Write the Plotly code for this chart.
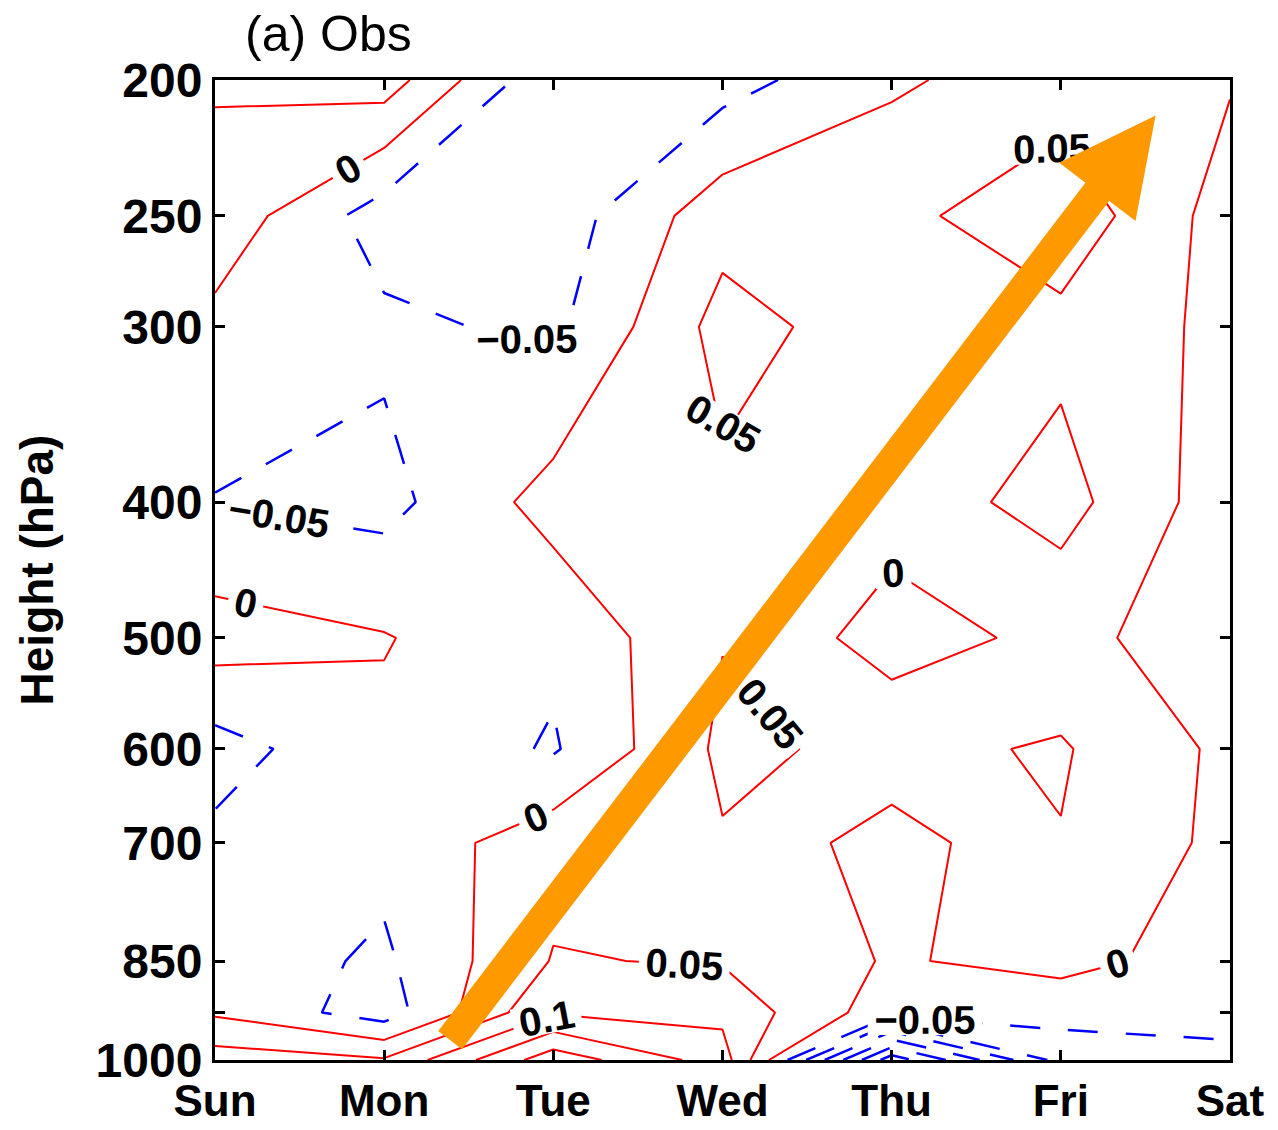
import math
import plotly.graph_objects as go

# Axes: weekday on x, pressure level (hPa) on a log-scaled, reversed y axis
days = ["Sun", "Mon", "Tue", "Wed", "Thu", "Fri", "Sat"]
pressure_hpa = [200, 250, 300, 400, 500, 600, 700, 850, 925, 1000]
pressure_ticks = ["200", "250", "300", "400", "500", "600", "700", "850", "", "1000"]

# Anomaly profile for each weekday, listed from 200 hPa down to 1000 hPa
sun = [0.054, 0.034, -0.015, -0.052, 0.023, -0.070, -0.039, -0.023, -0.007, 0.074]
mon = [0.075, -0.075, -0.039, -0.066, 0.003, -0.012, -0.035, -0.058, -0.075, 0.055]
tue = [-0.090, -0.078, -0.061, 0.020, -0.040, -0.055, 0.030, 0.053, 0.095, 0.230]
wed = [-0.071, 0.031, 0.068, 0.040, 0.048, 0.060, 0.046, 0.046, 0.086, 0.125]
thu = [-0.007, 0.036, 0.025, 0.023, -0.023, 0.038, -0.026, -0.005, -0.030, -0.330]
fri = [0.025, 0.085, 0.035, 0.069, 0.014, 0.055, 0.048, 0.017, -0.033, -0.080]
sat = [0.004, -0.024, -0.013, -0.030, -0.028, -0.012, -0.014, -0.026, -0.035, -0.061]

profiles = [sun, mon, tue, wed, thu, fri, sat]
z = [[col[i] for col in profiles] for i in range(len(pressure_hpa))]
x_idx = list(range(len(days)))

FONT = "Liberation Sans, Arial, Helvetica, sans-serif"
label_font = dict(family=FONT, size=40, color="black", weight="bold")

fig = go.Figure()

# negative levels: dashed blue
fig.add_trace(go.Contour(
    x=x_idx, y=pressure_hpa, z=z,
    autocontour=False,
    contours=dict(start=-0.35, end=-0.05, size=0.05, coloring="none",
                  showlabels=True, labelfont=label_font, labelformat=".2~f"),
    line=dict(color="#0000ff", width=2.5, dash="30px,28px", smoothing=0),
    showscale=False, hoverinfo="skip",
))

# zero and positive levels: solid red
fig.add_trace(go.Contour(
    x=x_idx, y=pressure_hpa, z=z,
    autocontour=False,
    contours=dict(start=0.0, end=0.25, size=0.05, coloring="none",
                  showlabels=True, labelfont=label_font, labelformat=".2~f"),
    line=dict(color="#ff0000", width=2, smoothing=0),
    showscale=False, hoverinfo="skip",
))

# figure geometry
W, H = 1278, 1130
ML, MR, MT, MB = 215, 48, 80, 70
PW, PH = W - ML - MR, H - MT - MB
Y_TOP, Y_BOT = 200, 1000
X_MIN, X_MAX = 0, len(days) - 1


def to_px(day, hpa):
    """Position inside the plot area, in pixels from the lower-left corner."""
    fx = (day - X_MIN) / (X_MAX - X_MIN)
    fy = (math.log10(Y_BOT) - math.log10(hpa)) / (math.log10(Y_BOT) - math.log10(Y_TOP))
    return fx * PW, fy * PH


def to_paper(px, py):
    return px / PW, py / PH


# Orange trend arrow from the lower troposphere on Monday up to the upper levels on Friday
arrow_tail = (1.39, 968)
arrow_tip = (5.56, 212)
shaft_w, head_len, head_half = 30, 96, 48
ARROW = "#ff9900"

tx, ty = to_px(*arrow_tail)
hx, hy = to_px(*arrow_tip)
d = math.hypot(hx - tx, hy - ty)
ux, uy = (hx - tx) / d, (hy - ty) / d
nx, ny = -uy, ux
bx, by = hx - ux * head_len, hy - uy * head_len

p0 = to_paper(tx, ty)
p1 = to_paper(bx + ux * 4, by + uy * 4)
fig.add_shape(type="line", xref="paper", yref="paper",
              x0=p0[0], y0=p0[1], x1=p1[0], y1=p1[1],
              line=dict(color=ARROW, width=shaft_w))
c1 = to_paper(bx + nx * head_half, by + ny * head_half)
c2 = to_paper(bx - nx * head_half, by - ny * head_half)
tp = to_paper(hx, hy)
fig.add_shape(type="path", xref="paper", yref="paper",
              path=f"M {tp[0]},{tp[1]} L {c1[0]},{c1[1]} L {c2[0]},{c2[1]} Z",
              fillcolor=ARROW, line=dict(color=ARROW, width=0))

fig.add_annotation(text="(a) Obs", xref="paper", yref="paper",
                   x=28 / PW, y=1 + 46 / PH, xanchor="left", yanchor="middle",
                   showarrow=False, font=dict(family=FONT, size=50, color="black"))

axis_common = dict(
    showline=True, linecolor="black", linewidth=3, mirror="ticks",
    ticks="inside", ticklen=10, tickwidth=2.5, tickcolor="black",
    showgrid=False, zeroline=False, automargin=False,
)

fig.update_layout(
    width=W, height=H,
    margin=dict(l=ML, r=MR, t=MT, b=MB),
    paper_bgcolor="white", plot_bgcolor="white",
    showlegend=False,
    xaxis=dict(range=[X_MIN, X_MAX], tickvals=x_idx, ticktext=days,
               ticklabelstandoff=0,
               tickfont=dict(family=FONT, size=44, color="black", weight="bold"),
               **axis_common),
    yaxis=dict(type="log", range=[math.log10(Y_BOT), math.log10(Y_TOP)],
               tickvals=pressure_hpa, ticktext=pressure_ticks,
               ticklabelstandoff=0,
               tickfont=dict(family=FONT, size=48, color="black", weight="bold"),
               title=dict(text="Height (hPa)", standoff=28,
                          font=dict(family=FONT, size=46, color="black", weight="bold")),
               **axis_common),
)

fig.write_html("out.html")
